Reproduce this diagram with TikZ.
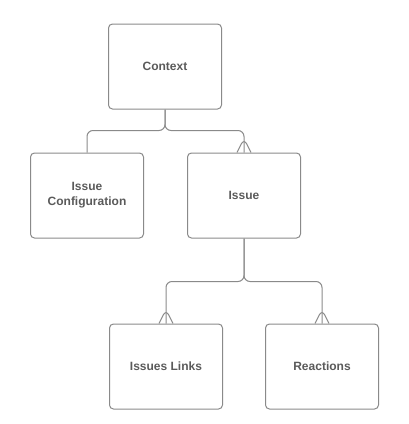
\documentclass[tikz,border=0pt]{standalone}
\usepackage{fontspec}
\setmainfont{Liberation Sans}
\usetikzlibrary{positioning}
\definecolor{boxline}{HTML}{8A8A8A}
\definecolor{boxtext}{HTML}{5A5A5A}
\tikzset{entity/.style={draw=boxline, line width=1pt, rounded corners=4pt, % the table boxes
minimum width=113pt, minimum height=85pt, inner sep=2pt, align=center,
text=boxtext, font=\fontsize{12}{15}\selectfont\bfseries},
conn/.style={draw=boxline, line width=1pt, rounded corners=6pt}, % the connectors
}

\begin{document}
\begin{tikzpicture}
  \useasboundingbox (0,0) rectangle (408pt,-424pt);
  \node[entity] (ctx) at (165pt,-66.5pt) {Context};
  \node[entity, below=43pt of ctx, xshift=-78pt] (conf) {Issue\\Configuration};
  \node[entity, right=43pt of conf] (issue) {Issue};
  \node[entity, below=85pt of issue, xshift=-78pt] (links) {Issues Links};
  \node[entity, right=42pt of links] (reac) {Reactions};

  % junction points
  \coordinate[below=21pt of ctx.south] (j1);
  \coordinate[below=43pt of issue.south] (j2);

  \draw[conn] (ctx.south) -- (j1) -| (conf.north);
  \draw[conn] (ctx.south) -- (j1) -| (issue.north);
  \draw[conn] (issue.south) -- (j2) -| (links.north);
  \draw[conn] (issue.south) -- (j2) -| (reac.north);

  % crow's feet
  \foreach \n in {issue, links, reac}
    \draw[conn] ([xshift=-7pt]\n.north) -- ([yshift=14pt]\n.north) -- ([xshift=7pt]\n.north);

\end{tikzpicture}
\end{document}
